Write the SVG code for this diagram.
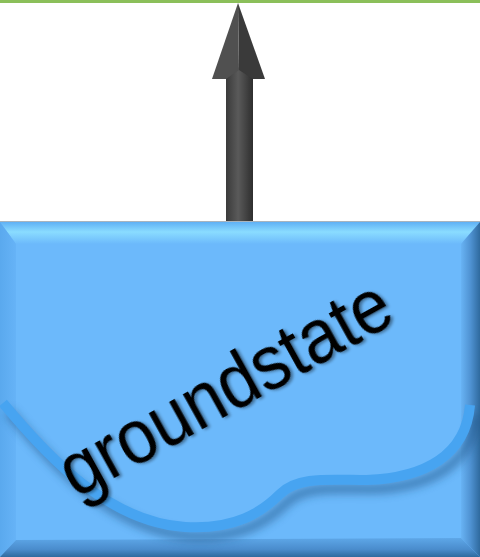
<svg xmlns="http://www.w3.org/2000/svg" width="480" height="557" viewBox="0 0 480 557">
<defs>
<linearGradient id="shaft" x1="0" y1="0" x2="1" y2="0">
<stop offset="0" stop-color="#3a3a3a"/>
<stop offset="0.45" stop-color="#5a5a5a"/>
<stop offset="0.6" stop-color="#4e4e4e"/>
<stop offset="1" stop-color="#2e2e2e"/>
</linearGradient>
<linearGradient id="topBevel" x1="0" y1="0" x2="0" y2="1">
<stop offset="0" stop-color="#5fb0f5"/>
<stop offset="0.45" stop-color="#8adcff"/>
<stop offset="1" stop-color="#6cb9fb"/>
</linearGradient>
<linearGradient id="leftBevel" x1="0" y1="0" x2="1" y2="0">
<stop offset="0" stop-color="#5aa9ee"/>
<stop offset="1" stop-color="#66b3f7"/>
</linearGradient>
<linearGradient id="rightBevel" x1="0" y1="0" x2="1" y2="0">
<stop offset="0" stop-color="#68b3f4"/>
<stop offset="0.5" stop-color="#4f92d2"/>
<stop offset="1" stop-color="#2f6a9e"/>
</linearGradient>
<linearGradient id="bottomBevel" x1="0" y1="0" x2="0" y2="1">
<stop offset="0" stop-color="#5ea7e8"/>
<stop offset="0.6" stop-color="#4a8ccc"/>
<stop offset="1" stop-color="#2f6a9e"/>
</linearGradient>
<filter id="blur" x="-10%" y="-10%" width="120%" height="130%">
<feGaussianBlur stdDeviation="4"/>
</filter>
<filter id="txtShadow" x="-10%" y="-10%" width="120%" height="130%">
<feDropShadow dx="2" dy="2" stdDeviation="1.5" flood-color="#000" flood-opacity="0.4"/>
</filter>
</defs>
<style>
.label{font-family:"Liberation Sans",Arial,sans-serif;font-size:76px;fill:#000;}
.wave{fill:none;stroke:#47a4f1;stroke-width:10;stroke-linecap:butt;}
.waveShadow{fill:none;stroke:#1c4f80;stroke-width:10;opacity:0.5;}
</style>
<rect x="0" y="0" width="480" height="3" fill="#8bbf5a"/>
<g id="connectors">
<g id="arrow">
<rect x="226" y="70" width="27" height="152" fill="url(#shaft)"/>
<path d="M238,3 L239,70 L253,79 L265,79 Z" fill="#3a3a3a"/>
<path d="M238,3 L239,70 L226,79 L212,79 Z" fill="#505050"/>
</g>
</g>
<g id="groundstate">
<rect x="0" y="221" width="480" height="1.5" fill="#a9b4bd"/>
<rect x="0" y="222" width="480" height="335" fill="#6cb9fb"/>
<polygon points="0,222 480,222 461,244 16,244" fill="url(#topBevel)"/>
<polygon points="0,222 16,244 16,540 0,557" fill="url(#leftBevel)"/>
<polygon points="480,222 480,557 461,538 461,244" fill="url(#rightBevel)"/>
<polygon points="0,557 16,540 461,538 480,557" fill="url(#bottomBevel)"/>
<path class="waveShadow" filter="url(#blur)" transform="translate(6,9)" d="M3,403 C50,460 110,522 185,527 C235,530 262,512 280,494 C298,476 330,480 367,480 C425,478 466,455 470,405"/>
<path class="wave" d="M3,403 C50,460 110,522 185,527 C235,530 262,512 280,494 C298,476 330,480 367,480 C425,478 466,455 470,405"/>
<text class="label" filter="url(#txtShadow)" transform="translate(237,410) rotate(-29)" text-anchor="middle" textLength="368" lengthAdjust="spacingAndGlyphs">groundstate</text>
</g>
</svg>
